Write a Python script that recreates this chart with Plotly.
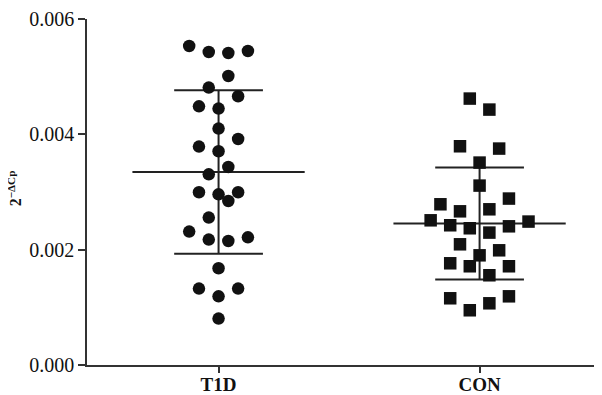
import plotly.graph_objects as go

categories = ["T1D", "CON"]

t1d_values = [0.005532, 0.005428, 0.005410, 0.005445, 0.005012, 0.004810, 0.004660,
              0.004486, 0.004446, 0.004099, 0.003919, 0.003787, 0.003706, 0.003434,
              0.003307, 0.002995, 0.002960, 0.002995, 0.002844, 0.002556, 0.002313,
              0.002175, 0.002150, 0.002214, 0.001677, 0.001325, 0.001191, 0.001325,
              0.000805]
t1d_slot = [-3, -1, 1, 3, 1, -1, 2, -2, 0, 0, 2, -2, 0, 1, -1, -2, 0, 2, 1, -1,
            -3, -1, 1, 3, 0, -2, 0, 2, 0]

con_values = [0.004620, 0.004429, 0.003793, 0.003753, 0.003510, 0.003111, 0.002886,
              0.002787, 0.002665, 0.002700, 0.002509, 0.002423, 0.002371, 0.002405,
              0.002487, 0.002296, 0.002093, 0.001989, 0.001902, 0.001764, 0.001712,
              0.001712, 0.001556, 0.001157, 0.000949, 0.001070, 0.001191]
con_slot = [-1, 1, -2, 2, 0, 0, 3, -4, -2, 1, -5, -3, -1, 3, 5, 1, -2, 2, 0, -3,
            -1, 3, 1, -3, -1, 1, 3]

group_mean = [0.003347, 0.002452]
group_sd = [0.001416, 0.000971]

y_ticks = [0.000, 0.002, 0.004, 0.006]

SLOT_W = 0.0375
MEAN_HW = 0.33
BAR_HW = 0.17
LINE_COLOR = "#222222"
MARK_COLOR = "#111111"
FONT = "Liberation Serif, DejaVu Serif, Times New Roman, serif"

fig = go.Figure()

# mean and SD lines
for i, (m, s) in enumerate(zip(group_mean, group_sd)):
    fig.add_trace(go.Scatter(x=[i - MEAN_HW, i + MEAN_HW], y=[m, m], mode="lines",
                             line=dict(color=LINE_COLOR, width=2), showlegend=False,
                             hoverinfo="skip"))
    fig.add_trace(go.Scatter(x=[i - BAR_HW, i + BAR_HW], y=[m + s, m + s], mode="lines",
                             line=dict(color=LINE_COLOR, width=2), showlegend=False,
                             hoverinfo="skip"))
    fig.add_trace(go.Scatter(x=[i - BAR_HW, i + BAR_HW], y=[m - s, m - s], mode="lines",
                             line=dict(color=LINE_COLOR, width=2), showlegend=False,
                             hoverinfo="skip"))
    fig.add_trace(go.Scatter(x=[i, i], y=[m - s, m + s], mode="lines",
                             line=dict(color=LINE_COLOR, width=2), showlegend=False,
                             hoverinfo="skip"))

fig.add_trace(go.Scatter(
    x=[0 + k * SLOT_W for k in t1d_slot], y=t1d_values, mode="markers",
    marker=dict(symbol="circle", size=12.5, color=MARK_COLOR, line=dict(width=0)),
    name="T1D", showlegend=False))
fig.add_trace(go.Scatter(
    x=[1 + k * SLOT_W for k in con_slot], y=con_values, mode="markers",
    marker=dict(symbol="square", size=12.5, color=MARK_COLOR, line=dict(width=0)),
    name="CON", showlegend=False))

# page body has an 8px margin: figure occupies (8,8)-(602,395)
W, H = 594, 387
fig.update_layout(
    width=W, height=H,
    margin=dict(l=79, r=0, t=11, b=30, autoexpand=False),
    plot_bgcolor="white", paper_bgcolor="white",
    font=dict(family=FONT, color="#111111"),
    xaxis=dict(
        range=[-0.504, 1.469], tickmode="array", tickvals=[0, 1],
        ticktext=["<b>%s</b>" % c for c in categories],
        tickfont=dict(size=19, family=FONT), ticks="outside", ticklen=6, tickwidth=1.5,
        ticklabelstandoff=-5,
        tickcolor="#333333", showline=True, linecolor="#333333", linewidth=1.5,
        showgrid=False, zeroline=False, automargin=False,
    ),
    yaxis=dict(
        range=[0, 0.006], tickmode="array", tickvals=y_ticks,
        ticktext=["%.3f" % v for v in y_ticks],
        tickfont=dict(size=20, family=FONT), ticks="outside", ticklen=7, tickwidth=1.5,
        tickcolor="#333333", showline=True, linecolor="#333333", linewidth=1.5,
        showgrid=False, zeroline=False, automargin=False,
    ),
)

fig.add_annotation(
    text="<b>2<sup>\u2212\u0394Cp</sup></b>", xref="paper", yref="paper",
    x=(15 - 87) / 515, y=(364.7 - 188) / 346, showarrow=False, textangle=-90,
    font=dict(size=16, family=FONT, color="#111111"),
    xanchor="center", yanchor="middle",
)

fig.write_html("out.html")
